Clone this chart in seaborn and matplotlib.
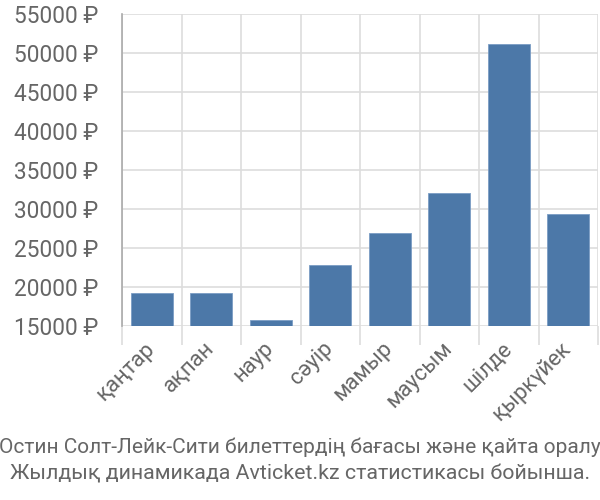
import matplotlib
matplotlib.use("Agg")
import matplotlib.pyplot as plt
import seaborn as sns
import pandas as pd
import numpy as np
from matplotlib.ticker import FixedLocator, FuncFormatter

months = ["қаңтар", "ақпан", "наур", "сәуір", "мамыр", "маусым", "шілде", "қыркүйек"]
prices = [19200, 19200, 15750, 22800, 26900, 32100, 51200, 29300]
base = 15000
yticks = [15000, 20000, 25000, 30000, 35000, 40000, 45000, 50000, 55000]
caption = ["Остин Солт-Лейк-Сити билеттердің бағасы және қайта оралу",
           "Жылдық динамикада Avticket.kz статистикасы бойынша."]

sns.set_theme(style="white")
plt.rcParams["font.family"] = ["Roboto", "DejaVu Sans"]

df = pd.DataFrame({"month": months, "height": [p - base for p in prices]})

fig = plt.figure(figsize=(6, 5), dpi=100)
ax = fig.add_axes([122/600, 1 - 326/500, 476/600, 312/500])

sns.barplot(data=df, x="month", y="height", color="#4c78a8", saturation=1,
            width=0.7, bottom=base, edgecolor="#7a9cc4", linewidth=0.6, ax=ax, zorder=3)

ax.set_ylim(base, 55000)
ax.set_xlim(-0.5, len(months) - 0.5)
ax.set_yticks(yticks)
ax.yaxis.set_major_formatter(FuncFormatter(lambda v, p: f"{int(v)} ₽"))
ax.set_xlabel("")
ax.set_ylabel("")

ax.xaxis.set_minor_locator(FixedLocator(np.arange(-0.5, len(months), 1.0)))
ax.grid(False)
ax.grid(True, which="minor", axis="x", color="#dddddd", linewidth=1.2, zorder=0)
ax.grid(True, which="major", axis="y", color="#dddddd", linewidth=1.2, zorder=0)

for s in ["top", "right", "bottom"]:
    ax.spines[s].set_visible(False)
ax.spines["left"].set_color("#aaaaaa")
ax.spines["left"].set_linewidth(1.2)

ax.tick_params(axis="y", which="major", length=16, width=1.2, color="#dddddd",
               labelsize=16.3, labelcolor="#666666", pad=1)
ax.tick_params(axis="x", which="major", length=0, pad=14, labelsize=15.8, labelcolor="#666666")
ax.tick_params(axis="x", which="minor", length=14, width=1.2, color="#dddddd", bottom=True)
for lab in ax.get_xticklabels():
    lab.set_rotation(45)
    lab.set_ha("right")
    lab.set_va("center")
    lab.set_rotation_mode("anchor")

fig.text(0.5, 1 - 447/500, caption[0], ha="center", va="center", fontsize=15, color="#666666")
fig.text(0.5, 1 - 474/500, caption[1], ha="center", va="center", fontsize=15.4, color="#666666")

fig.savefig("out.png", dpi=100)
